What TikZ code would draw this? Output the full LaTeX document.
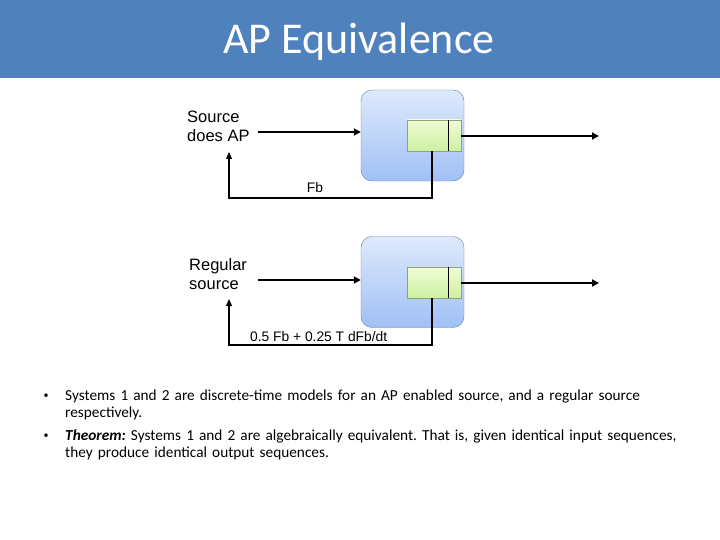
\documentclass[tikz,border=0pt]{standalone}
\usepackage{fontspec}
\setmainfont{Carlito}
\newfontfamily\arialfont{Liberation Sans}
\usetikzlibrary{arrows.meta}
\hyphenpenalty=10000
\frenchspacing
\definecolor{barblue}{RGB}{79,129,189}
\definecolor{blockedge}{RGB}{110,130,160}
\definecolor{blocktop}{RGB}{222,233,252}
\definecolor{blockbottom}{RGB}{160,192,245}
\definecolor{delayedge}{RGB}{140,165,110}
\definecolor{delaytop}{RGB}{240,252,215}
\definecolor{delaybottom}{RGB}{205,240,160}
\tikzset{
  titlebar/.style={fill=barblue, draw=none},
  block/.style={draw=blockedge, rounded corners=11pt, top color=blocktop, bottom color=blockbottom, minimum width=103pt, minimum height=91pt, inner sep=0pt},
  delaybox/.style={draw=delayedge, top color=delaytop, bottom color=delaybottom, minimum width=54pt, minimum height=31pt, inner sep=0pt},
  signal/.style={line width=2.6pt, -{Triangle[length=7pt, width=7pt]}},
  feedback/.style={line width=1.2pt, -{Triangle[length=7pt, width=6pt]}},
  srclabel/.style={font=\arialfont\fontsize{16.5}{19}\selectfont, align=left, inner sep=0pt},
  fblabel/.style={font=\arialfont\fontsize{13.8}{15}\selectfont, inner sep=0pt},
  bulletpt/.style={font=\fontsize{10}{12}\selectfont, inner sep=0pt},
  bullettext/.style={font=\fontsize{15.3}{17}\selectfont, text width=640pt, align=left, inner sep=0pt}
}

\begin{document}
\begin{tikzpicture}[x=1pt, y=-1pt]
  \useasboundingbox (0,0) rectangle (720,540);
  \fill[titlebar] (0,0) rectangle (720,78);
  \node[text=white, font=\fontsize{44}{48}\selectfont] (title) at (359,41.5) {AP Equivalence};

  % system 1
  \node[block] (blockA) at (412.5,135.5) {};
  \node[delaybox] (delayA) at (434,135.5) {};
  \draw ([xshift=-13pt]delayA.north east) -- ([xshift=-13pt]delayA.south east);
  \node[srclabel, anchor=west] (srcA) at (187,126.5) {Source\\does AP};
  \coordinate (inA) at (258,132);
  \coordinate (outA) at (599,136);
  \coordinate (fbcornerA) at (229,198);
  \coordinate (fbendA) at (229,152);
  \draw[signal] (inA) -- (inA -| blockA.west);
  \draw[signal] (delayA.east |- outA) -- (outA);
  \draw[feedback] ([xshift=-2pt]delayA.south) |- (fbcornerA) -- (fbendA);
  \node[fblabel] (fbA) at (315,188) {Fb};

  % system 2
  \node[block] (blockB) at (412.5,282) {};
  \node[delaybox] (delayB) at (434,282.5) {};
  \draw ([xshift=-13pt]delayB.north east) -- ([xshift=-13pt]delayB.south east);
  \node[srclabel, anchor=west] (srcB) at (189,274.5) {Regular\\source};
  \coordinate (inB) at (258,280);
  \coordinate (outB) at (599,283);
  \coordinate (fbcornerB) at (229,345);
  \coordinate (fbendB) at (229,299);
  \draw[signal] (inB) -- (inB -| blockB.west);
  \draw[signal] (delayB.east |- outB) -- (outB);
  \draw[feedback] ([xshift=-2pt]delayB.south) |- (fbcornerB) -- (fbendB);
  \node[fblabel, anchor=west] (fbB) at (250,337) {0.5 Fb + 0.25 T dFb/dt};

  % statements
  \node[bulletpt] (bulletA) at (46,396.5) {•};
  \node[bullettext, anchor=north west] (textA) at (65,390) {Systems 1 and 2 are discrete-time models for an AP enabled source, and a regular source respectively.};
  \node[bulletpt] (bulletB) at (46,436.5) {•};
  \node[bullettext, anchor=north west] (textB) at (65,430) {\textbf{\textit{Theorem:}} Systems 1 and 2 are algebraically equivalent. That is, given identical input sequences, they produce identical output sequences.};
\end{tikzpicture}
\end{document}
